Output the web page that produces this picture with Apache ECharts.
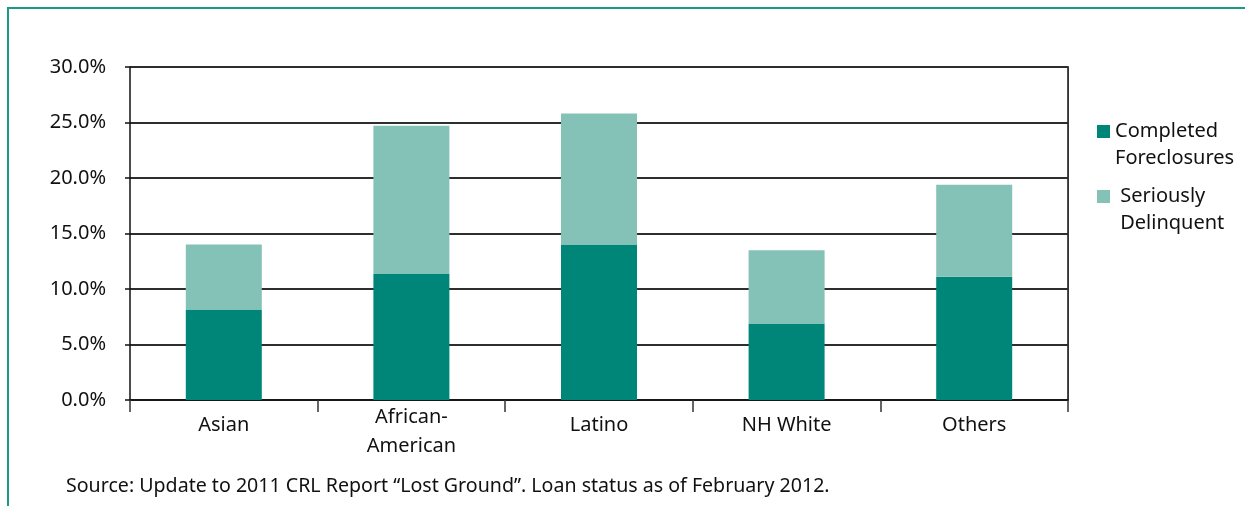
<!DOCTYPE html>
<html>
<head>
<meta charset="utf-8">
<script src="https://cdn.jsdelivr.net/npm/echarts@6/dist/echarts.min.js"></script>
<style>
  html, body { margin: 0; padding: 0; background: #fff; }
  #chart { width: 1245px; height: 506px; }
</style>
</head>
<body>
<div id="chart"></div>
<script>
// Loan outcomes by borrower group (percent of loans)
const categories = ['Asian', 'African-\nAmerican', 'Latino', 'NH White', 'Others'];
const completedForeclosures = [8.1, 11.4, 14.0, 6.9, 11.1];
const seriouslyDelinquent = [5.9, 13.3, 11.8, 6.6, 8.3];
const seriesNames = ['Completed Foreclosures', 'Seriously Delinquent'];
const legendLabels = ['Completed\nForeclosures', ' Seriously\n Delinquent'];
const sourceNote = 'Source: Update to 2011 CRL Report \u201cLost Ground\u201d. Loan status as of February 2012.';

const FONT = '"Noto Sans", "Open Sans", sans-serif';
const FS = 20;
const DARK = '#008678';
const LIGHT = '#84C2B8';
const FRAME = '#1b9a86';
const LINE_H = 27;

const chart = echarts.init(document.getElementById('chart'), null, { renderer: 'canvas' });

// Legend entry whose icon sits beside the first line of a two-line label:
// a leading blank line puts the first text line at the icon's centre.
function legendFor(i, top) {
  return {
    data: [seriesNames[i]],
    left: 1097,
    top: top,
    padding: 0,
    itemWidth: 13,
    itemHeight: 13,
    icon: 'rect',
    selectedMode: false,
    formatter: () => '\n' + legendLabels[i],
    textStyle: {
      fontFamily: FONT,
      fontSize: FS,
      color: '#111',
      lineHeight: LINE_H
    }
  };
}

chart.setOption({
  animation: false,
  textStyle: { fontFamily: FONT },
  grid: { left: 130, right: 177, top: 67, bottom: 106, containLabel: false },
  legend: [legendFor(0, 91), legendFor(1, 156)],
  xAxis: {
    type: 'category',
    data: categories,
    axisLine: { lineStyle: { color: '#111', width: 1.5 } },
    axisTick: { show: true, length: 12, interval: 0, lineStyle: { color: '#333', width: 1.5 } },
    axisLabel: {
      interval: 0,
      margin: 3,
      fontSize: FS,
      lineHeight: 29,
      color: '#111',
      fontFamily: FONT,
      formatter: v => (v.indexOf('\n') >= 0 ? v : '{one|' + v + '}'),
      rich: {
        one: { fontSize: FS, lineHeight: 45, color: '#111', fontFamily: FONT }
      }
    },
    splitLine: { show: false }
  },
  yAxis: {
    type: 'value',
    min: 0,
    max: 30,
    interval: 5,
    axisLine: { show: true, lineStyle: { color: '#111', width: 1.5 } },
    axisTick: { show: true, length: 5, lineStyle: { color: '#111', width: 1.5 } },
    axisLabel: {
      margin: 24,
      fontSize: FS,
      color: '#111',
      fontFamily: FONT,
      formatter: v => v.toFixed(1) + '%'
    },
    splitLine: { show: true, lineStyle: { color: '#2e2e2e', width: 2 } }
  },
  graphic: [
    {
      type: 'rect',
      shape: { x: 8, y: 8, width: 1400, height: 700 },
      style: { fill: null, stroke: FRAME, lineWidth: 2 },
      silent: true
    },
    {
      type: 'rect',
      shape: { x: 1068, y: 67, width: 0.1, height: 333 },
      style: { fill: null, stroke: '#111', lineWidth: 1.5 },
      silent: true
    },
    {
      type: 'text',
      left: 66,
      top: 476,
      style: { text: sourceNote, font: '19.6px ' + FONT, fill: '#111' }
    }
  ],
  series: [
    {
      name: seriesNames[0],
      type: 'bar',
      stack: 'total',
      barWidth: 76,
      itemStyle: { color: DARK },
      data: completedForeclosures
    },
    {
      name: seriesNames[1],
      type: 'bar',
      stack: 'total',
      barWidth: 76,
      itemStyle: { color: LIGHT },
      data: seriouslyDelinquent
    }
  ]
});
</script>
</body>
</html>
